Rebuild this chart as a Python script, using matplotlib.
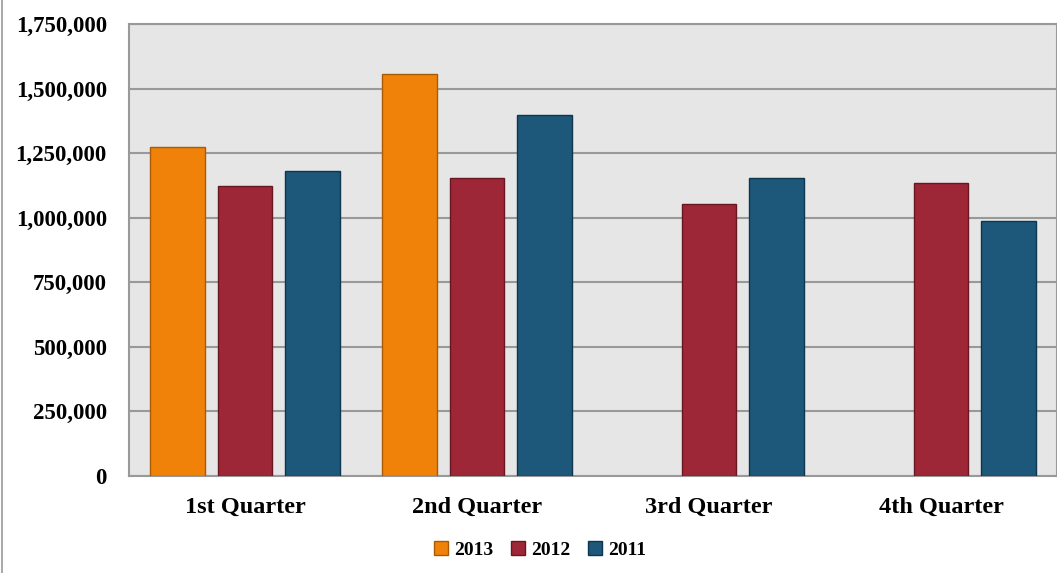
import numpy as np
import matplotlib.pyplot as plt
from matplotlib.lines import Line2D

plt.rcParams['font.family'] = ['Liberation Serif', 'DejaVu Serif']
plt.rcParams['font.weight'] = 'bold'

# Data
quarters = ["1st Quarter", "2nd Quarter", "3rd Quarter", "4th Quarter"]
years = ["2013", "2012", "2011"]
sales_2013 = [1275000, 1555000, 0, 0]
sales_2012 = [1122000, 1154000, 1053000, 1135000]
sales_2011 = [1180000, 1398000, 1154000, 988000]

facecolors = ['#F0820A', '#9E2737', '#1D5779']
edgecolors = ['#A85A05', '#6A1621', '#0E3550']

fig = plt.figure(figsize=(10.57, 5.73), dpi=100)
ax = fig.add_axes([129/1057, 97/573, 928/1057, 452/573])
ax.set_facecolor('#E6E6E6')

x = np.arange(len(quarters))
width = 0.237
step = 0.293
series = [sales_2013, sales_2012, sales_2011]
for i in range(len(series)):
    vals = np.array(series[i], dtype=float)
    mask = vals > 0
    ax.bar(x[mask] + (i - 1) * step, vals[mask], width,
           color=facecolors[i], edgecolor=edgecolors[i], linewidth=1,
           label=years[i], zorder=3)

ax.set_xlim(-0.5, 3.5)
ax.set_ylim(0, 1750000)
ax.set_yticks(np.arange(0, 1750001, 250000))
ax.set_yticklabels(['{:,}'.format(v) for v in range(0, 1750001, 250000)])
ax.yaxis.grid(True, color='#999999', linewidth=1.5, zorder=1)
ax.set_axisbelow(True)
ax.set_xticks(x)
ax.set_xticklabels(quarters)
ax.tick_params(axis='y', length=0, pad=16, labelsize=16.5)
ax.tick_params(axis='x', length=0, pad=15, labelsize=17.5)
for s in ax.spines.values():
    s.set_color('#999999')
    s.set_linewidth(1.5)

leg = ax.legend(loc='upper center', bbox_to_anchor=(411/928, -0.105), ncol=3,
                frameon=False, fontsize=14, handlelength=0.75, handleheight=0.75,
                handletextpad=0.3, columnspacing=0.9)

# thin frame line on the left of the figure
fig.add_artist(Line2D([2/1057, 2/1057], [0, 1], color='#999999', linewidth=1.2,
                      transform=fig.transFigure))

fig.savefig('out.png', dpi=100)
